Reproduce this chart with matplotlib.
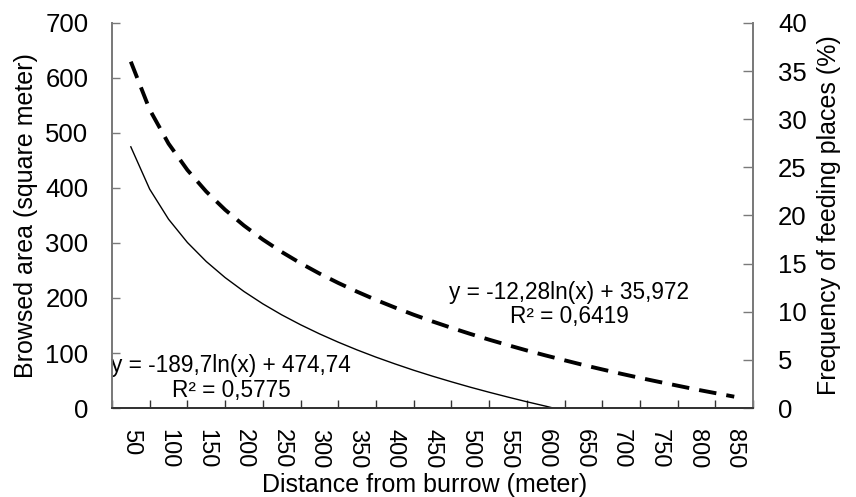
import matplotlib
matplotlib.use('Agg')
import matplotlib.pyplot as plt
from matplotlib import rcParams
rcParams['font.family'] = 'sans-serif'
rcParams['font.sans-serif'] = ['Liberation Sans', 'DejaVu Sans']

# distance classes (meter) on the category axis
distances = [50, 100, 150, 200, 250, 300, 350, 400, 450, 500, 550, 600, 650, 700, 750, 800, 850]

# browsed area trend line (square meter), read every 25 m, reaches 0 near 610 m
browsed_dist = [50, 75, 100, 125, 150, 175, 200, 225, 250, 275, 300, 325, 350, 375,
                400, 425, 450, 475, 500, 525, 550, 575, 600, 610]
browsed = [474.7, 397.8, 343.2, 300.9, 266.3, 237.1, 211.8, 189.4, 169.4, 151.4, 134.9, 119.7,
           105.6, 92.5, 80.3, 68.7, 57.9, 47.7, 37.9, 28.7, 19.9, 11.4, 3.4, 0]

# frequency of feeding places trend line (%), read every 25 m
feeding_dist = [50, 75, 100, 125, 150, 175, 200, 225, 250, 275, 300, 325, 350, 375, 400, 425,
                450, 475, 500, 525, 550, 575, 600, 625, 650, 675, 700, 725, 750, 775, 800, 825, 850]
feeding = [35.97, 30.99, 27.46, 24.72, 22.48, 20.59, 18.95, 17.50, 16.21, 15.04, 13.97, 12.99,
           12.08, 11.23, 10.44, 9.69, 8.99, 8.33, 7.70, 7.10, 6.53, 5.98, 5.46, 4.96, 4.47, 4.01,
           3.56, 3.13, 2.72, 2.32, 1.92, 1.55, 1.18]

eq_browsed = 'y = -189,7ln(x) + 474,74\nR² = 0,5775'
eq_feeding = 'y = -12,28ln(x) + 35,972\nR² = 0,6419'

left_col = '#7a7a7a'
bottom_col = '#333333'
ytick_fs = 18.5
xtick_fs = 17
label_fs = 18
eq_fs = 16.3

def to_pos(d):
    # category axis: 50 m -> 0, 100 m -> 1, ...
    step = distances[1] - distances[0]
    return [(v - distances[0]) / step for v in d]

fig = plt.figure(figsize=(8.56, 4.97), dpi=100)
ax = fig.add_axes([0.1308, 0.179, 0.749, 0.775])
ax2 = ax.twinx()

ax.plot(to_pos(browsed_dist), browsed, color='black', lw=1.0)
ax2.plot(to_pos(feeding_dist), feeding, color='black', lw=2.8,
         linestyle=(0, (4.5, 2.6)), dash_capstyle='butt')

ax.set_xlim(-0.5, len(distances) - 0.5)
ax.set_ylim(0, 700)
ax.set_yticks(range(0, 701, 100))
ax2.set_ylim(0, 40)
ax2.set_yticks(range(0, 41, 5))

# ticks between categories, labels at the centres
pos = list(range(len(distances)))
ax.set_xticks([p - 0.5 for p in pos] + [len(distances) - 0.5])
ax.set_xticklabels([])
ax.set_xticks(pos, minor=True)
ax.set_xticklabels([str(d) for d in distances], minor=True, rotation=-90, fontsize=xtick_fs)
ax.tick_params(axis='x', which='major', direction='in', length=6, color=bottom_col, width=1)
ax.tick_params(axis='x', which='minor', length=0, pad=15)
ax.tick_params(axis='y', direction='in', length=6, color=left_col, width=1, labelsize=ytick_fs, pad=17)
ax2.tick_params(axis='y', direction='in', length=7, color=left_col, width=1, labelsize=ytick_fs, pad=18)

for a in (ax, ax2):
    a.spines['top'].set_visible(False)
    a.spines['left'].set_color(left_col)
    a.spines['right'].set_color(left_col)
    a.spines['bottom'].set_color(bottom_col)
    for s in ('left', 'right', 'bottom'):
        a.spines[s].set_linewidth(1.3)

ax.set_xlabel('Distance from burrow (meter)', fontsize=label_fs, labelpad=3, x=0.488)
ax.set_ylabel('Browsed area (square meter)', fontsize=label_fs, labelpad=5)
ax2.set_ylabel('Frequency of feeding places (%)', fontsize=label_fs, labelpad=7)

ax.text(0.186, 0.077, eq_browsed, transform=ax.transAxes, ha='center', va='center',
        fontsize=eq_fs, linespacing=1.1)
ax.text(0.713, 0.269, eq_feeding, transform=ax.transAxes, ha='center', va='center',
        fontsize=eq_fs, linespacing=1.1)

fig.savefig('out.png', dpi=100)
